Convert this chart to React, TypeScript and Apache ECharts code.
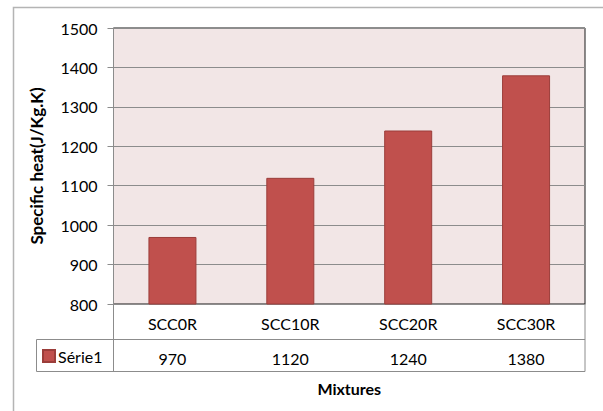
import React, { useEffect, useRef } from "react";
import * as echarts from "echarts";

const categories = ["SCC0R", "SCC10R", "SCC20R", "SCC30R"];
const values = [970, 1120, 1240, 1380];
const seriesName = "Série1";
const yMin = 800;
const yMax = 1500;
const yStep = 100;

const FONT = "Lato, 'Liberation Sans', sans-serif";

export default function App() {
  const ref = useRef<HTMLDivElement>(null);
  useEffect(() => {
    if (!ref.current) return;
    const chart = echarts.init(ref.current, undefined, { renderer: "svg" });
    const L = 113.5, R = 585, T = 28, B = 304;
    const gray = "#8c8c8c";
    chart.setOption({
      animation: false,
      textStyle: { fontFamily: FONT },
      grid: {
        left: L, right: 603 - R, top: T, bottom: 411 - B,
        show: true, backgroundColor: "#f2e6e6", borderColor: "#1a1a1a", borderWidth: 1,
      },
      legend: {
        data: [seriesName], left: 42, top: 348, itemWidth: 12, itemHeight: 12, icon: "rect",
        itemGap: 4, padding: 0,
        textStyle: { fontSize: 16, color: "#000", fontFamily: FONT, padding: [0, 0, 0, -2] },
      },
      xAxis: [
        {
          type: "category", data: categories, position: "bottom",
          axisLine: { lineStyle: { color: gray } }, axisTick: { show: false },
          axisLabel: { color: "#000", fontSize: 16, margin: 11, fontFamily: FONT },
          name: "Mixtures", nameLocation: "middle", nameGap: 76,
          nameTextStyle: { fontWeight: "bold", fontSize: 16, color: "#000", fontFamily: FONT },
        },
        {
          type: "category", data: categories, position: "bottom", offset: 36,
          axisLine: { show: false }, axisTick: { show: false },
          axisLabel: {
            color: "#000", fontSize: 16, margin: 10, fontFamily: FONT,
            formatter: (_v: string, i: number) => String(values[i]),
          },
        },
      ],
      yAxis: {
        type: "value", min: yMin, max: yMax, interval: yStep,
        axisLine: { show: true, lineStyle: { color: gray } },
        axisTick: { show: true, length: 6, lineStyle: { color: gray } },
        axisLabel: {
          color: "#000", fontSize: 16, margin: 16, fontFamily: FONT,
          formatter: (v: number) => String(v),
        },
        splitLine: { lineStyle: { color: gray } },
        name: "Specific heat(J/Kg.K)", nameLocation: "middle", nameGap: 69, nameRotate: 90,
        nameTextStyle: { fontWeight: "bold", fontSize: 17, color: "#000", fontFamily: FONT },
      },
      series: [
        {
          type: "bar", name: seriesName, data: values, barWidth: 48, xAxisIndex: 0,
          itemStyle: { color: "#c0504d", borderColor: "#9b3d3a", borderWidth: 1 },
        },
      ],
      graphic: [
        { type: "rect", shape: { x: 13.5, y: 7.5, width: 620, height: 430 }, style: { fill: "none", stroke: "#b4b4b4", lineWidth: 1.5 }, silent: true, z: -10 },
        { type: "line", shape: { x1: 36.5, y1: 339.5, x2: R, y2: 339.5 }, style: { stroke: gray, lineWidth: 1 } },
        { type: "line", shape: { x1: 36.5, y1: 371.5, x2: R, y2: 371.5 }, style: { stroke: gray, lineWidth: 1 } },
        { type: "line", shape: { x1: 36.5, y1: 339.5, x2: 36.5, y2: 371.5 }, style: { stroke: gray, lineWidth: 1 } },
        { type: "line", shape: { x1: L, y1: B, x2: L, y2: 371.5 }, style: { stroke: gray, lineWidth: 1 } },
        { type: "line", shape: { x1: R, y1: B, x2: R, y2: 371.5 }, style: { stroke: gray, lineWidth: 1 } },
      ],
    });
    return () => chart.dispose();
  }, []);
  return <div ref={ref} style={{ width: 603, height: 411, position: "absolute", left: 0, top: 0 }} />;
}
